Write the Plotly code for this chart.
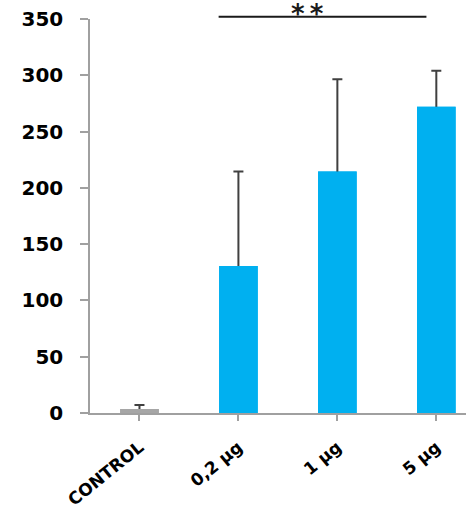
import plotly.graph_objects as go

categories = ["CONTROL", "0,2 µg", "1 µg", "5 µg"]
values = [3.5, 130.5, 214.5, 272]
errors = [3.5, 84, 82, 32]
bar_colors = ["#A6A6A6", "#00B0F0", "#00B0F0", "#00B0F0"]
y_ticks = [0, 50, 100, 150, 200, 250, 300, 350]

# significance bracket (category units / data units)
sig_x0, sig_x1, sig_y, sig_label = 0.8, 2.9, 352, "*\u2009*"
sig_label_x = 1.7

x_range = [-0.5, 3.3]
y_range = [0, 350]
xs = list(range(len(categories)))

fig = go.Figure()
# bars carrying the error bars (lower half hidden by the overlay bars)
fig.add_trace(go.Bar(
    x=xs, y=values,
    marker=dict(color=bar_colors, line=dict(width=0)),
    width=0.39,
    error_y=dict(type="data", symmetric=False, array=errors,
                 arrayminus=[v * 0.5 for v in values], color="#404040",
                 thickness=2, width=5),
))
fig.add_trace(go.Bar(
    x=xs, y=values,
    marker=dict(color=bar_colors, line=dict(width=0)),
    width=0.39,
))

def px(xv):
    return (xv - x_range[0]) / (x_range[1] - x_range[0])

def py(yv):
    return (yv - y_range[0]) / (y_range[1] - y_range[0])

fig.add_shape(type="line", xref="paper", yref="paper",
              x0=px(sig_x0), x1=px(sig_x1), y0=py(sig_y), y1=py(sig_y),
              line=dict(color="#1a1a1a", width=2))
fig.add_annotation(xref="paper", yref="paper", x=px(sig_label_x),
                   y=py(sig_y), yanchor="bottom", yshift=-14, showarrow=False,
                   text="<b>%s</b>" % sig_label,
                   font=dict(family="DejaVu Sans", size=26, color="#1a1a1a"))

fig.update_layout(
    width=466, height=513,
    margin=dict(l=90, r=0, t=19, b=100),
    plot_bgcolor="white", paper_bgcolor="white",
    showlegend=False, barmode="overlay",
    xaxis=dict(
        range=x_range, tickmode="array", tickvals=xs,
        ticktext=["<b>%s</b>" % c for c in categories],
        tickangle=-39, showgrid=False, zeroline=False, automargin=False,
        showline=True, linecolor="#A0A0A0", linewidth=1.5,
        ticks="outside", ticklen=6, tickcolor="#A0A0A0", tickwidth=1.5,
        tickson="boundaries", ticklabelstandoff=10,
        tickfont=dict(family="DejaVu Sans", size=17, color="#000000"),
    ),
    yaxis=dict(
        range=y_range, tickmode="array", tickvals=y_ticks,
        ticktext=["<b>%d</b>" % t for t in y_ticks],
        showgrid=False, zeroline=False, automargin=False,
        showline=True, linecolor="#A0A0A0", linewidth=1.5,
        ticks="outside", ticklen=8, tickcolor="#A0A0A0", tickwidth=1.5,
        ticklabelstandoff=13, ticklabeloverflow="allow",
        tickfont=dict(family="DejaVu Sans", size=20, color="#000000"),
    ),
)

fig.write_html("out.html", config={"displayModeBar": False},
               post_script="document.body.style.margin='0';document.body.style.overflow='hidden';")
